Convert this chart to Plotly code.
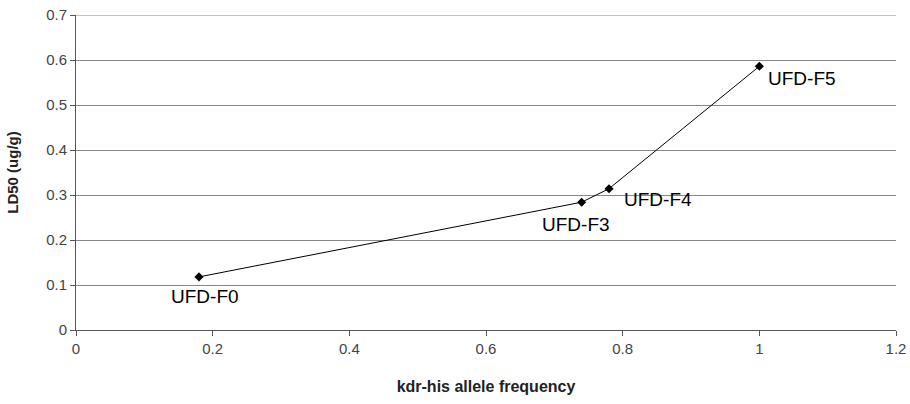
import plotly.graph_objects as go

freq = [0.18, 0.74, 0.78, 1.0]
ld50 = [0.118, 0.284, 0.314, 0.586]
names = ["UFD-F0", "UFD-F3", "UFD-F4", "UFD-F5"]
xshifts = [6, -6, 49, 43]
yshifts = [-20, -22, -11, -12]
y_ticks = [0, 0.1, 0.2, 0.3, 0.4, 0.5, 0.6, 0.7]
x_ticks = [0, 0.2, 0.4, 0.6, 0.8, 1, 1.2]

fig = go.Figure()
fig.add_trace(go.Scatter(
    x=freq, y=ld50, mode="lines+markers",
    line=dict(color="black", width=1),
    marker=dict(symbol="diamond", size=7, color="black"),
    showlegend=False,
))
for xv, yv, n, dx, dy in zip(freq, ld50, names, xshifts, yshifts):
    fig.add_annotation(x=xv, y=yv, text=n, showarrow=False, xshift=dx, yshift=dy,
                       font=dict(family="Liberation Sans, Arial", size=19, color="black"))

# top gridline at the end of the y range
fig.add_shape(type="line", xref="paper", yref="y", x0=0, x1=1,
              y0=y_ticks[-1], y1=y_ticks[-1], line=dict(color="#888", width=1), layer="below")

fig.update_layout(
    width=910, height=404,
    margin=dict(l=76, r=14, t=15, b=74),
    paper_bgcolor="white", plot_bgcolor="white",
    font=dict(family="Liberation Sans, Arial", color="#333"),
)
fig.update_xaxes(
    range=[x_ticks[0], x_ticks[-1]], tickvals=x_ticks,
    ticktext=[f"{v:g}" for v in x_ticks],
    showgrid=False, showline=True, linecolor="#555", linewidth=1,
    ticks="outside", ticklen=5, tickcolor="#555",
    tickfont=dict(size=15, color="#444"),
    title=dict(text="<b>kdr-his allele frequency</b>", font=dict(size=16, color="#222"), standoff=24),
    zeroline=False, automargin=False,
)
fig.update_yaxes(
    range=[y_ticks[0], y_ticks[-1]], tickvals=y_ticks,
    ticktext=[f"{v:g}" for v in y_ticks],
    showgrid=True, gridcolor="#888", gridwidth=1,
    showline=True, linecolor="#555", linewidth=1,
    ticks="outside", ticklen=5, tickcolor="#555",
    tickfont=dict(size=15, color="#444"),
    title=dict(text="<b>LD50 (ug/g)</b>", font=dict(size=15, color="#222"), standoff=23),
    zeroline=False, automargin=False,
)
fig.write_html("out.html", config={"displayModeBar": False},
               post_script="document.body.style.margin='0';")
